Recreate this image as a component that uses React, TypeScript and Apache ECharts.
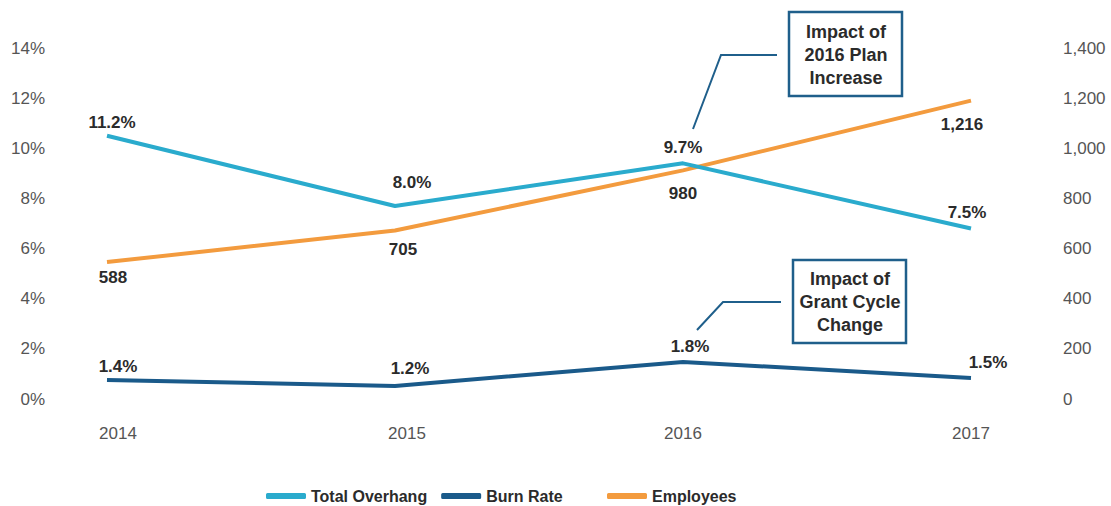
import React, { useEffect, useRef } from "react";
import * as echarts from "echarts";

const years = ["2014", "2015", "2016", "2017"];
const overhangValues = [10.5, 7.7, 9.4, 6.8];
const overhangLabels = ["11.2%", "8.0%", "9.7%", "7.5%"];
const burnValues = [0.76, 0.52, 1.48, 0.84];
const burnLabels = ["1.4%", "1.2%", "1.8%", "1.5%"];
const employeeValues = [546, 672, 912, 1190];
const employeeLabels = ["588", "705", "980", "1,216"];
const leftTicks = [0, 2, 4, 6, 8, 10, 12, 14];
const rightTicks = [0, 200, 400, 600, 800, 1000, 1200, 1400];
const seriesNames = ["Total Overhang", "Burn Rate", "Employees"];
const annotation1 = ["Impact of", "2016 Plan", "Increase"];
const annotation2 = ["Impact of", "Grant Cycle", "Change"];

const FONT = "'Liberation Sans', Arial, Helvetica, sans-serif";
const C_OVER = "#2aabcd";
const C_BURN = "#1a5a8a";
const C_EMP = "#f39b3e";
const C_BOX = "#1f5f8b";
const COLORS = [C_OVER, C_BURN, C_EMP];

export default function App() {
  const ref = useRef<HTMLDivElement>(null);
  useEffect(() => {
    if (!ref.current) return;
    const chart = echarts.init(ref.current, null, { renderer: "svg" });
    const labelStyle = {
      show: true,
      fontFamily: FONT,
      fontSize: 17,
      fontWeight: "bold" as const,
      color: "#2b2b2b",
      opacity: 1,
    };
    const mk = (
      values: number[],
      labels: string[],
      pos: string,
      offs: number[][]
    ) =>
      values.map((v, i) => ({
        value: v,
        label: { ...labelStyle, position: pos, distance: 4, formatter: labels[i], offset: offs[i] },
      }));
    const xShift = [11, 12, 0, 0];
    const lineCommon = {
      type: "line",
      showSymbol: true,
      symbol: "circle",
      symbolSize: 2,
      itemStyle: { color: "rgba(0,0,0,0)", borderWidth: 0 },
      emphasis: { disabled: true },
    };
    const legendBase = {
      top: 488,
      padding: 0,
      itemWidth: 40,
      itemHeight: 6,
      itemGap: 14,
      icon: "roundRect",
      textStyle: { fontFamily: FONT, fontSize: 16, fontWeight: "bold", color: "#2b2b2b" },
    };
    const legendItem = (i: number) => ({
      name: seriesNames[i],
      itemStyle: { color: COLORS[i], opacity: 1, borderWidth: 0 },
    });
    const annoText = (lines: string[], x: number, y: number) => ({
      type: "text",
      x,
      y,
      style: {
        text: lines.join("\n"),
        fontFamily: FONT,
        fontSize: 18,
        fontWeight: "bold",
        fill: "#2b2b2b",
        align: "center",
        verticalAlign: "middle",
        lineHeight: 23,
      },
    });
    chart.setOption({
      animation: false,
      grid: { left: 107, right: 140, top: 48, bottom: 107 },
      legend: [
        { ...legendBase, left: 266, data: [legendItem(0), legendItem(1)] },
        { ...legendBase, left: 607, data: [legendItem(2)] },
      ],
      xAxis: {
        type: "category",
        data: years,
        boundaryGap: false,
        axisLine: { show: false },
        axisTick: { show: false },
        axisLabel: {
          margin: 26,
          fontFamily: FONT,
          fontSize: 17,
          color: "#555",
          formatter: (v: string, i: number) => (xShift[i] ? "{s" + i + "|" + v + "}" : v),
          rich: {
            s0: { padding: [0, 0, 0, xShift[0] * 2], fontFamily: FONT, fontSize: 17, color: "#555" },
            s1: { padding: [0, 0, 0, xShift[1] * 2], fontFamily: FONT, fontSize: 17, color: "#555" },
          },
        },
      },
      yAxis: [
        {
          type: "value",
          min: leftTicks[0],
          max: leftTicks[leftTicks.length - 1],
          interval: 2,
          splitLine: { show: false },
          axisLine: { show: false },
          axisTick: { show: false },
          axisLabel: {
            margin: 62,
            fontFamily: FONT,
            fontSize: 17,
            color: "#555",
            formatter: (v: number) => v + "%",
          },
        },
        {
          type: "value",
          min: rightTicks[0],
          max: rightTicks[rightTicks.length - 1],
          interval: 200,
          splitLine: { show: false },
          axisLine: { show: false },
          axisTick: { show: false },
          axisLabel: {
            margin: 92,
            fontFamily: FONT,
            fontSize: 17,
            color: "#555",
            formatter: (v: number) => v.toLocaleString("en-US"),
          },
        },
      ],
      series: [
        {
          ...lineCommon,
          name: seriesNames[0],
          yAxisIndex: 0,
          lineStyle: { width: 4, color: C_OVER },
          data: mk(overhangValues, overhangLabels, "top", [
            [5, 0],
            [17, -10],
            [0, -2],
            [-4, -3],
          ]),
          z: 3,
        },
        {
          ...lineCommon,
          name: seriesNames[1],
          yAxisIndex: 0,
          lineStyle: { width: 4, color: C_BURN },
          data: mk(burnValues, burnLabels, "top", [
            [11, 0],
            [15, -4],
            [7, -2],
            [17, -2],
          ]),
        },
        {
          ...lineCommon,
          name: seriesNames[2],
          yAxisIndex: 1,
          lineStyle: { width: 4, color: C_EMP },
          data: mk(employeeValues, employeeLabels, "bottom", [
            [6, 2],
            [8, 5],
            [0, 10],
            [-9, 10],
          ]),
          z: 2,
        },
      ],
      graphic: [
        {
          type: "polyline",
          shape: { points: [[693, 129], [721, 55], [777, 55]] },
          style: { stroke: C_BOX, lineWidth: 2, fill: null },
        },
        {
          type: "rect",
          shape: { x: 789, y: 12, width: 113, height: 84 },
          style: { stroke: C_BOX, lineWidth: 2.5, fill: "#fff" },
        },
        annoText(annotation1, 846, 55),
        {
          type: "polyline",
          shape: { points: [[697, 330], [723, 302], [781, 302]] },
          style: { stroke: C_BOX, lineWidth: 2, fill: null },
        },
        {
          type: "rect",
          shape: { x: 793, y: 260, width: 113, height: 83 },
          style: { stroke: C_BOX, lineWidth: 2.5, fill: "#fff" },
        },
        annoText(annotation2, 850, 302),
      ],
    });
    return () => chart.dispose();
  }, []);
  return (
    <div
      ref={ref}
      style={{ width: 1111, height: 506, position: "absolute", left: 0, top: 0 }}
    />
  );
}
